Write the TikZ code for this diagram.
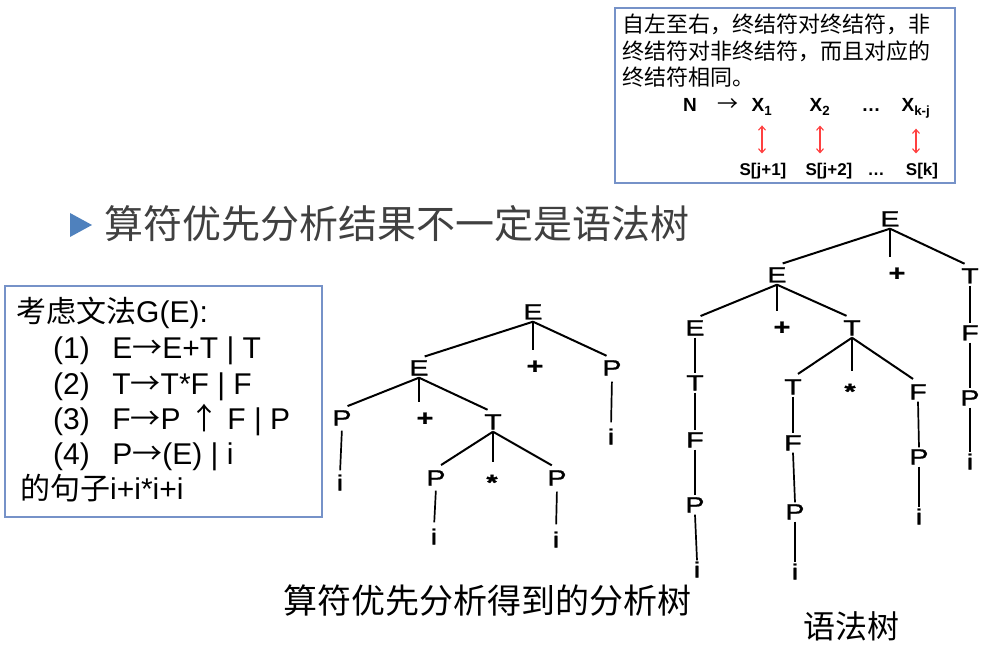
\documentclass[tikz,border=0pt]{standalone}
\usepackage{fontspec}
\setmainfont{Liberation Sans}
\newfontfamily\cjk{Noto Sans CJK SC}
\newfontfamily\treefont{Liberation Sans}[FakeStretch=1.3, FakeBold=1.2]
\usetikzlibrary{arrows.meta}
\definecolor{boxblue}{RGB}{118,146,200}
\definecolor{titlegray}{RGB}{64,64,64}
\definecolor{bulletblue}{RGB}{79,129,189}
\definecolor{arrowred}{RGB}{255,64,64}

\tikzset{
  tsym/.style={font=\treefont\fontsize{22}{22}\selectfont, text height=15pt, text depth=0pt, inner sep=2pt},
  opsym/.style={tsym, font=\treefont\fontsize{22}{22}\selectfont\bfseries},
  treeline/.style={line width=2pt, shorten >=6pt},
  unitline/.style={line width=1.7pt},
  boxtext/.style={font=\fontsize{30}{36}\selectfont, anchor=base west, inner sep=0pt},
  notetext/.style={font=\cjk\fontsize{22}{26}\selectfont, anchor=base west, inner sep=0pt},
  prodsym/.style={font=\fontsize{19}{19}\selectfont\bfseries, anchor=base, inner sep=1pt},
  posname/.style={font=\fontsize{17}{17}\selectfont\bfseries, anchor=base, inner sep=1pt},
  pairarrow/.style={arrowred, line width=1.1pt,
    {Straight Barb[length=4pt,width=7pt]}-{Straight Barb[length=4pt,width=7pt]},
    shorten <=9pt, shorten >=9pt},
  captext/.style={font=\cjk\fontsize{34}{34}\selectfont, anchor=base, inner sep=0pt}
}
\newcommand{\longto}{{\cjk →}}
\newcommand{\starsym}{\raisebox{-4.5pt}{*}}

\begin{document}
\begin{tikzpicture}[x=1pt, y=-1pt]
\useasboundingbox (0,0) rectangle (986,647);
\fill[white] (0,0) rectangle (986,647);

% note box, top right
\draw[boxblue, line width=1.5pt] (615,8) rectangle (955,183);
\node[notetext] (n1) at (622,33) {自左至右，终结符对终结符，非};
\node[notetext] (n2) at (622,60) {终结符对非终结符，而且对应的};
\node[notetext] (n3) at (622,86) {终结符相同。};
\node[prodsym] (lhs) at (690,112) {N};
\node[prodsym, font=\cjk\fontsize{21}{21}\selectfont] (to) at (728,112) {→};
\node[prodsym] (x1) at (762,112) {X\textsubscript{1}};
\node[prodsym] (x2) at (820,112) {X\textsubscript{2}};
\node[prodsym] (xd) at (871,112) {…};
\node[prodsym] (x3) at (916,112) {X\textsubscript{k-j}};
\node[posname] (s1) at (763,176) {S[j+1]};
\node[posname] (s2) at (829,176) {S[j+2]};
\node[posname] (sd) at (876,176) {…};
\node[posname] (s3) at (922,176) {S[k]};
\draw[pairarrow] (x1.south) -- (x1.south |- s1.north);
\draw[pairarrow] (x2.south) -- (x2.south |- s2.north);
\draw[pairarrow] (x3.south) -- (x3.south |- s3.north);

% title
\fill[bulletblue] (70,213) -- (92,225) -- (70,237) -- cycle;
\node[anchor=base west, inner sep=0pt, text=titlegray, font=\cjk\fontsize{39}{39}\selectfont]
  (title) at (104,239) {算符优先分析结果不一定是语法树};

% grammar box
\draw[boxblue, line width=1.5pt] (5,286) rectangle (322,517);
\node[boxtext] (g0) at (16,323) {{\cjk 考虑文法}G(E):};
\node[boxtext] (g1) at (53,358) {(1)\hspace{0.75em}E\longto E+T | T};
\node[boxtext] (g2) at (53,394) {(2)\hspace{0.75em}T\longto T*F | F};
\node[boxtext] (g3) at (53,429) {(3)\hspace{0.75em}F\longto P {\cjk ↑} F | P};
\node[boxtext] (g4) at (53,464) {(4)\hspace{0.75em}P\longto(E) | i};
\node[boxtext] (g5) at (20,499) {{\cjk 的句子}i+i*i+i};

% operator precedence parse tree
\node[tsym] (m0) at (533,312) {E};
\node[tsym] (m1) at (419,368) {E};
\node[opsym] (m2) at (535,366) {+};
\node[tsym] (m3) at (612,368) {P};
\node[tsym] (m4) at (611,437) {i};
\node[tsym] (m5) at (342,418) {P};
\node[opsym] (m6) at (425,418) {+};
\node[tsym] (m7) at (493,422) {T};
\node[tsym] (m8) at (340,483) {i};
\node[tsym] (m9) at (436,478) {P};
\node[opsym] (m10) at (492,478) {\starsym};
\node[tsym] (m11) at (557,478) {P};
\node[tsym] (m12) at (434,537) {i};
\node[tsym] (m13) at (556,540) {i};
\draw[treeline] (m0.south) -- (m1.north);
\draw[treeline] (m0.south) -- (m0.south |- m2.north);
\draw[treeline] (m0.south) -- (m3.north);
\draw[treeline] (m1.south) -- (m5.north);
\draw[treeline] (m1.south) -- (m1.south |- m6.north);
\draw[treeline] (m1.south) -- (m7.north);
\draw[treeline] (m7.south) -- (m9.north);
\draw[treeline] (m7.south) -- (m7.south |- m10.north);
\draw[treeline] (m7.south) -- (m11.north);
\draw[unitline, shorten <=4pt, shorten >=5pt] (m3.south) -- (m4.north);
\draw[unitline, shorten <=3pt, shorten >=3pt] (m5.south) -- (m8.north);
\draw[unitline, shorten <=3pt, shorten >=5pt] (m9.south) -- (m12.north);
\draw[unitline, shorten <=4pt, shorten >=6pt] (m11.south) -- (m13.north);
\node[captext] (cap1) at (487,613) {算符优先分析得到的分析树};

% syntax tree
\node[tsym] (r0) at (890,219) {E};
\node[tsym] (r1) at (777,275) {E};
\node[opsym] (r2) at (897,273) {+};
\node[tsym] (r3) at (970,276) {T};
\node[tsym] (r4) at (695,328) {E};
\node[opsym] (r5) at (782,327) {+};
\node[tsym] (r6) at (852,328) {T};
\node[tsym] (r7) at (970,333) {F};
\node[tsym] (r8) at (970,398) {P};
\node[tsym] (r9) at (970,462) {i};
\node[tsym] (r10) at (695,383) {T};
\node[tsym] (r11) at (695,440) {F};
\node[tsym] (r12) at (695,505) {P};
\node[tsym] (r13) at (697,570) {i};
\node[tsym] (r14) at (793,387) {T};
\node[opsym] (r15) at (850,387) {\starsym};
\node[tsym] (r16) at (918,392) {F};
\node[tsym] (r17) at (793,443) {F};
\node[tsym] (r18) at (795,512) {P};
\node[tsym] (r19) at (795,572) {i};
\node[tsym] (r20) at (919,457) {P};
\node[tsym] (r21) at (919,517) {i};
\draw[treeline] (r0.south) -- (r1.north);
\draw[treeline] (r0.south) -- (r0.south |- r2.north);
\draw[treeline] (r0.south) -- (r3.north);
\draw[treeline] (r1.south) -- (r4.north);
\draw[treeline] (r1.south) -- (r1.south |- r5.north);
\draw[treeline] (r1.south) -- (r6.north);
\draw[treeline] (r6.south) -- (r14.north);
\draw[treeline] (r6.south) -- (r6.south |- r15.north);
\draw[treeline] (r6.south) -- (r16.north);
\draw[unitline] (r3.south) -- (r7.north);
\draw[unitline] (r7.south) -- (r8.north);
\draw[unitline] (r8.south) -- (r9.north);
\draw[unitline] (r4.south) -- (r10.north);
\draw[unitline] (r10.south) -- (r11.north);
\draw[unitline] (r11.south) -- (r12.north);
\draw[unitline] (r12.south) -- (r13.north);
\draw[unitline] (r14.south) -- (r17.north);
\draw[unitline] (r17.south) -- (r18.north);
\draw[unitline] (r18.south) -- (r19.north);
\draw[unitline] (r16.south) -- (r20.north);
\draw[unitline] (r20.south) -- (r21.north);
\node[captext, font=\cjk\fontsize{32}{32}\selectfont] (cap2) at (851,638) {语法树};
\end{tikzpicture}
\end{document}
